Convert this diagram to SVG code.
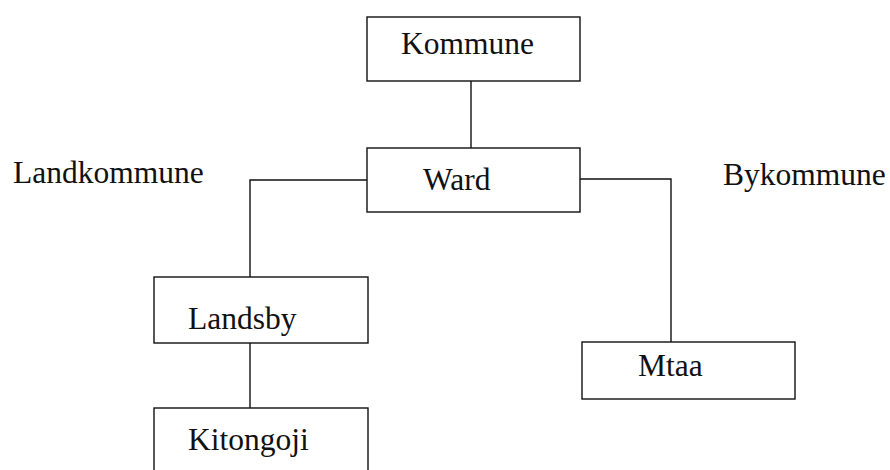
<svg xmlns="http://www.w3.org/2000/svg" width="890" height="470" viewBox="0 0 890 470">
<style>
.box{fill:#fff;stroke:#111;stroke-width:1.4}
.ln{fill:none;stroke:#111;stroke-width:1.4}
text{font-family:"Liberation Serif","Times New Roman",serif;font-size:31.5px;fill:#111}
</style>
<rect width="890" height="470" fill="#fff"/>
<g id="connectors">
<path class="ln" d="M471,81 V148"/>
<path class="ln" d="M367,180 H250 V277"/>
<path class="ln" d="M250,343 V408"/>
<path class="ln" d="M580,179 H671 V342"/>
</g>
<g id="kommune"><rect class="box" x="367" y="17" width="213" height="64"/><text x="401" y="54">Kommune</text></g>
<g id="ward"><rect class="box" x="367" y="148" width="213" height="64"/><text x="423" y="190">Ward</text></g>
<g id="landsby"><rect class="box" x="154" y="277" width="214" height="66"/><text x="188" y="329">Landsby</text></g>
<g id="kitongoji"><rect class="box" x="154" y="408" width="214" height="70"/><text x="188" y="450">Kitongoji</text></g>
<g id="mtaa"><rect class="box" x="582" y="342" width="213" height="57"/><text x="638" y="376">Mtaa</text></g>
<g id="labels"><text x="13" y="183">Landkommune</text><text x="723" y="185">Bykommune</text></g>
</svg>
